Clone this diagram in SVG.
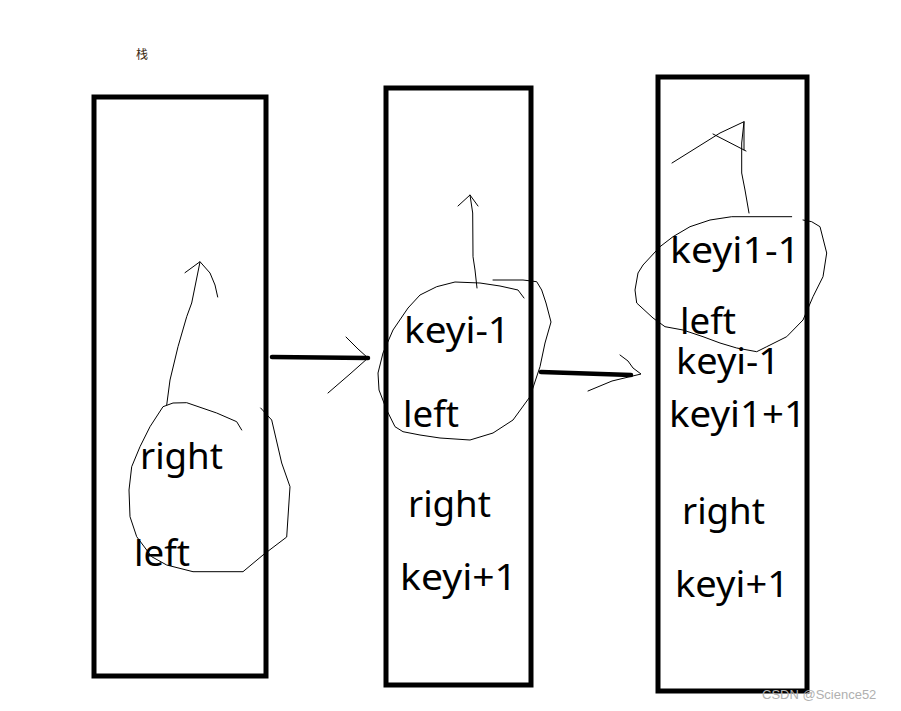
<svg xmlns="http://www.w3.org/2000/svg" width="901" height="711" viewBox="0 0 901 711">
<style>
.box{fill:none;stroke:#000;stroke-width:5}
.t{font-family:"Noto Sans","Open Sans",sans-serif;font-size:37px;fill:#000}
.sk{fill:none;stroke:#000;stroke-width:1;stroke-linejoin:round;stroke-linecap:round}
.thick{fill:none;stroke:#000;stroke-width:4.5;stroke-linecap:round}
</style>
<rect width="901" height="711" fill="#fff"/>
<text x="136" y="59" font-family="'Noto Sans CJK SC',sans-serif" font-size="12" fill="#3a2a10">栈</text>
<g id="stack1">
<rect class="box" x="94" y="97" width="172" height="579"/>
<text class="t" x="140" y="469" textLength="83" lengthAdjust="spacingAndGlyphs">right</text>
<text class="t" x="134" y="566" textLength="56" lengthAdjust="spacingAndGlyphs">left</text>
</g>
<g id="stack2">
<rect class="box" x="386" y="88" width="145" height="597"/>
<text class="t" x="404" y="343" textLength="106" lengthAdjust="spacingAndGlyphs">keyi-1</text>
<text class="t" x="403" y="427" textLength="56" lengthAdjust="spacingAndGlyphs">left</text>
<text class="t" x="408" y="517" textLength="83" lengthAdjust="spacingAndGlyphs">right</text>
<text class="t" x="400" y="590" textLength="117" lengthAdjust="spacingAndGlyphs">keyi+1</text>
</g>
<g id="stack3">
<rect class="box" x="658" y="77" width="149" height="614"/>
<text class="t" x="670" y="263" textLength="130" lengthAdjust="spacingAndGlyphs">keyi1-1</text>
<text class="t" x="680" y="334" textLength="56" lengthAdjust="spacingAndGlyphs">left</text>
<text class="t" x="676" y="374" textLength="104" lengthAdjust="spacingAndGlyphs">keyi-1</text>
<text class="t" x="669" y="427" textLength="137" lengthAdjust="spacingAndGlyphs">keyi1+1</text>
<text class="t" x="682" y="524" textLength="83" lengthAdjust="spacingAndGlyphs">right</text>
<text class="t" x="675" y="597" textLength="114" lengthAdjust="spacingAndGlyphs">keyi+1</text>
</g>
<g id="connectors">
<path class="thick" d="M272,357 L368,358"/>
<path class="sk" d="M346,337 L358,349 L368,358 L350,374 L328,393"/>
<path class="thick" d="M541,372 L631,375"/>
<path class="sk" d="M620,355 L628,361 L633,368 L641,374 L612,381 L588,391"/>
<path class="sk" d="M241.7,430 L236.7,421.7 L216.7,413 L186.7,402.7 L173,403 L163,406.7 L150,426.7 L140,446.7 L131.7,466.7 L129,490 L130,516.7 L136.7,536.7 L151.7,556.7 L166.7,565 L193,571.7 L243,571.7 L263,555 L286.7,537 L290,486.7 L281.7,463 L271.7,420 L260.7,408"/>
<path class="sk" d="M166.7,405 L170,380 L178,346.7 L186.7,316.7 L191.7,303 L200,262 M185,272.7 L200,261.7 L210,273 L215,285 L217.7,297"/>
<path class="sk" d="M524,298 L518,290 L500,286 L480,283 L455,282 L436.7,286.7 L420,295 L408,308 L393,330 L383,353 L378,373 L379,390 L386.7,410 L395,426.7 L403,431.7 L420,435 L440,438 L470,440 L493,433 L513,420 L530,396.7 L540,366.7 L545,343 L551,322 L546,303 L541.7,290 L536.7,281.7 L523,280 L493,280"/>
<path class="sk" d="M477,288 L475,270 L473,256.7 L472.7,213 L470,195 M458,206 L470,195 L478,206"/>
<path class="sk" d="M791.7,216.7 L731.7,216.7 L710,220 L690,226.7 L673,236.7 L660,246.7 L643,265 L638,273 L635,290 L636.7,303 L653,318 L665,326.7 L683,330 L703,336.7 L720,343 L736.7,348 L756.7,351.7 L766.7,346.7 L786.7,336.7 L803,320 L813,296.7 L823,276.7 L826.7,253 L820,226.7 L811.7,221.7 L803,220"/>
<path class="sk" d="M749,213 L745,190 L741.7,173 L741.7,143 L744,121.7 L744,150 M672,163 L720,133 L744,121.7 M713,134 L746,151"/>
</g>
<text x="762" y="699" font-family="'Liberation Sans',Arial,sans-serif" font-size="13" fill="#b0b0b0">CSDN @Science52</text>
</svg>
